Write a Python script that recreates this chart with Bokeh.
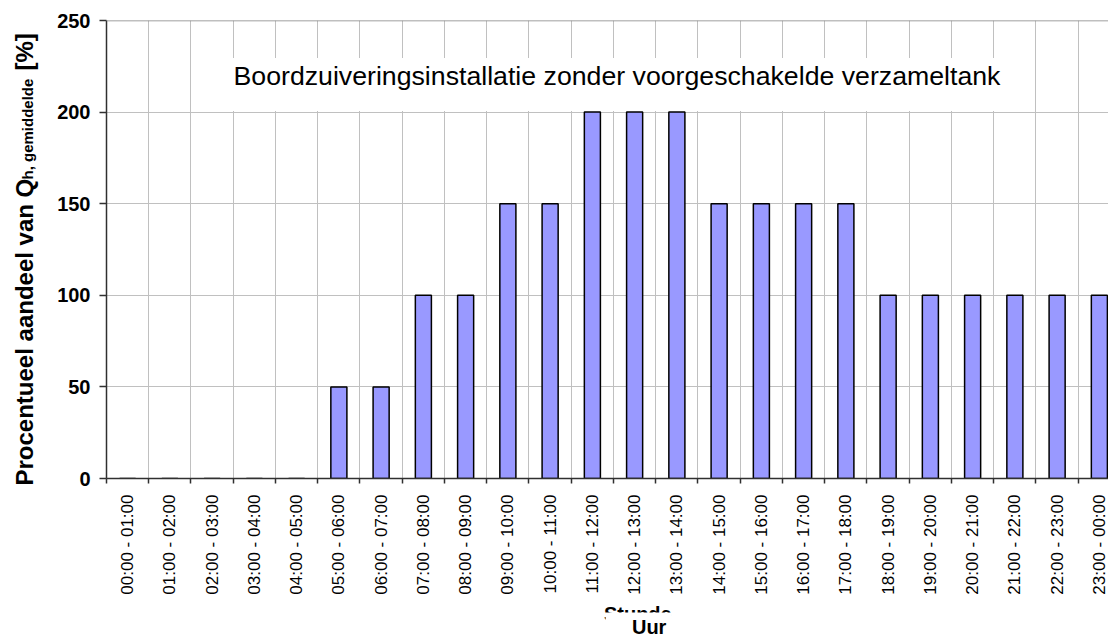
import math
from bokeh.plotting import figure
from bokeh.layouts import row, column
from bokeh.models import (Range1d, FixedTicker, CustomJSTickFormatter, Label, Span)
from bokeh.core.properties import value
from bokeh.embed import file_html
from bokeh.resources import INLINE

# ---- data ----
hours = ["00:00 - 01:00", "01:00 - 02:00", "02:00 - 03:00", "03:00 - 04:00",
         "04:00 - 05:00", "05:00 - 06:00", "06:00 - 07:00", "07:00 - 08:00",
         "08:00 - 09:00", "09:00 - 10:00", "10:00 - 11:00", "11:00 - 12:00",
         "12:00 - 13:00", "13:00 - 14:00", "14:00 - 15:00", "15:00 - 16:00",
         "16:00 - 17:00", "17:00 - 18:00", "18:00 - 19:00", "19:00 - 20:00",
         "20:00 - 21:00", "21:00 - 22:00", "22:00 - 23:00", "23:00 - 00:00"]
share = [0, 0, 0, 0, 0, 50, 50, 100, 100, 150, 150, 200,
         200, 200, 150, 150, 150, 150, 100, 100, 100, 100, 100, 100]
y_ticks = [0, 50, 100, 150, 200, 250]
title_text = "Boordzuiveringsinstallatie zonder voorgeschakelde verzameltank"
x_label_old = "Stunde"
x_label = "Uur"
y_label_main = "Procentueel aandeel van Q"
y_label_sub = "h, gemiddelde"
y_label_end = "[%]"

FONT = "Liberation Sans"
n = len(hours)
centers = [i + 0.5 for i in range(n)]
bounds = list(range(n + 1))

LEFT_W = 50
MAIN_W = 1108 - LEFT_W
MAIN_H = 600
BOT_H = 637 - MAIN_H
H = 637


def blank(w, h):
    f = figure(width=w, height=h, x_range=Range1d(0, w), y_range=Range1d(0, h),
               x_axis_type=None, y_axis_type=None, output_backend="svg",
               toolbar_location=None, min_border=0)
    f.outline_line_color = None
    f.grid.visible = False
    f.background_fill_color = "white"
    f.border_fill_color = "white"
    return f


# ---- main chart ----
p = figure(width=MAIN_W, height=MAIN_H, x_range=Range1d(0, 23.716), y_range=Range1d(0, 250),
           output_backend="svg", toolbar_location=None,
           min_border_left=106 - LEFT_W, min_border_right=0, min_border_top=20,
           min_border_bottom=MAIN_H - 478)
p.outline_line_color = None
p.background_fill_color = "white"
p.border_fill_color = "white"

p.xaxis.ticker = FixedTicker(ticks=centers, minor_ticks=bounds)
p.xgrid.grid_line_color = None
p.xgrid.minor_grid_line_color = "#c0c0c0"
p.xgrid.minor_grid_line_width = 1
p.yaxis.ticker = FixedTicker(ticks=y_ticks, minor_ticks=[])
p.ygrid.grid_line_color = "#c0c0c0"
p.ygrid.grid_line_width = 1

xa = p.xaxis[0]
xa.formatter = CustomJSTickFormatter(args=dict(labels=hours),
                                     code="return labels[Math.round(tick - 0.5)] || '';")
xa.major_label_orientation = math.pi / 2
xa.major_tick_line_color = None
xa.major_tick_out = 0
xa.major_tick_in = 0
xa.minor_tick_line_color = "#303030"
xa.minor_tick_line_width = 1.5
xa.minor_tick_out = 5
xa.minor_tick_in = 0
xa.major_label_standoff = 11
xa.major_label_text_font = FONT
xa.major_label_text_font_size = "17px"
xa.major_label_text_color = "black"
xa.axis_line_color = "#303030"
xa.axis_line_width = 1.5

ya = p.yaxis[0]
ya.major_tick_line_color = "#303030"
ya.major_tick_line_width = 1.5
ya.major_tick_out = 7
ya.major_tick_in = 0
ya.minor_tick_line_color = None
ya.major_label_standoff = 9
ya.major_label_text_font = FONT
ya.major_label_text_font_size = "20px"
ya.major_label_text_font_style = "bold"
ya.major_label_text_color = "black"
ya.axis_line_color = "#303030"
ya.axis_line_width = 1.5

p.add_layout(Span(location=250, dimension="width", line_color="#808080", line_width=1.5))

p.vbar(x=centers, top=share, width=0.38, fill_color="#9999FF",
       line_color="black", line_width=1.5)

p.add_layout(Label(x=2.864, y=215.1, text=title_text, text_font=FONT, text_font_size="26.7px",
                   text_color="black", text_align="left", text_baseline="alphabetic",
                   background_fill_color="white",
                   padding=dict(left=6, right=6, top=3, bottom=20)))

# ---- y-axis title (left strip, pixel coordinates from bottom-left) ----
left = blank(LEFT_W, H)
left.text(x=[23.7], y=[H - 485], text=[y_label_main], angle=math.pi / 2,
          text_font=value(FONT), text_font_size="24px", text_font_style="bold",
          text_color="black", text_align="left", text_baseline="middle")
left.text(x=[27.3], y=[H - 179], text=[y_label_sub], angle=math.pi / 2,
          text_font=value(FONT), text_font_size="15px", text_font_style="bold",
          text_color="black", text_align="left", text_baseline="middle")
left.text(x=[23.7], y=[H - 70], text=[y_label_end], angle=math.pi / 2,
          text_font=value(FONT), text_font_size="24px", text_font_style="bold",
          text_color="black", text_align="left", text_baseline="middle")

# ---- x-axis title (bottom strip) ----
bottom = blank(MAIN_W, BOT_H)
bottom.text(x=[611 - LEFT_W], y=[H - 613], text=[x_label_old],
            text_font=value(FONT), text_font_size="20px", text_font_style="bold",
            text_color="black", text_align="center", text_baseline="middle")
bottom.quad(left=[577 - LEFT_W], right=[647 - LEFT_W], bottom=[0], top=[H - 612],
            fill_color="white", line_color=None)
bottom.text(x=[623 - LEFT_W], y=[H - 626], text=[x_label],
            text_font=value(FONT), text_font_size="20px", text_font_style="bold",
            text_color="black", text_align="center", text_baseline="middle")

layout = row(left, column(p, bottom, spacing=0), spacing=0)
open("out.html", "w").write(file_html(layout, INLINE))
